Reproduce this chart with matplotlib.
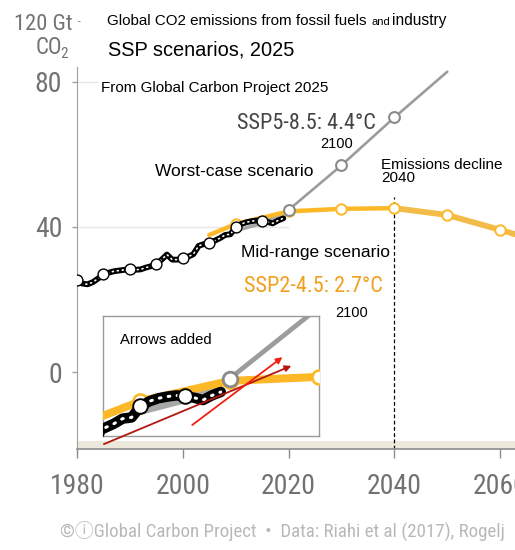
import matplotlib
matplotlib.use('Agg')
import matplotlib.pyplot as plt

# historical emissions (Gt CO2)
hist_years = list(range(1980, 2020))
hist_vals = [25.4, 24.4, 24.2, 24.8, 25.8, 27.0, 27.4, 27.8, 28.0, 28.2,
             28.4, 28.2, 28.3, 28.8, 29.2, 29.8, 31.0, 32.4, 31.0, 31.0,
             31.4, 31.8, 32.5, 34.8, 35.3, 35.5, 36.2, 36.9, 37.8, 38.0,
             39.9, 40.8, 41.3, 41.6, 41.8, 41.7, 41.4, 41.0, 41.8, 42.4]

# SSP2-4.5 (mid-range)
ssp2_years = [2005, 2010, 2020, 2030, 2040, 2050, 2060, 2070]
ssp2_vals = [37.8, 40.8, 44.3, 45.0, 45.2, 43.3, 39.2, 35.0]

# SSP5-8.5 (worst case)
ssp5_years = [2010, 2015, 2020, 2030, 2040, 2050]
ssp5_vals = [39.0, 41.0, 44.7, 57.0, 70.2, 82.8]

W, H = 515, 550
COND = ['Roboto Condensed', 'DejaVu Sans', 'Noto Sans CJK JP']
SANS = ['Liberation Sans', 'DejaVu Sans']
GREY_TXT = '#727272'
ORANGE = '#FDB827'
ORANGE2 = '#F3BB48'
GREY_LINE = '#9C9C9C'


def px(x, y):
    return x / W, 1 - y / H


def draw_series(ax, k=1.0, km=1.0):
    # SSP5-8.5
    ax.plot(ssp5_years[:3], ssp5_vals[:3], color='#A8A8A8', lw=2.6 * k,
            solid_capstyle='round', zorder=2)
    ax.plot(ssp5_years[2:], ssp5_vals[2:], color=GREY_LINE, lw=1.9 * k,
            solid_capstyle='round', zorder=2)
    # SSP2-4.5
    i40 = ssp2_years.index(2040)
    ax.plot(ssp2_years[:i40 + 1], ssp2_vals[:i40 + 1], color=ORANGE,
            lw=3.2 * k, solid_capstyle='round', zorder=3)
    ax.plot(ssp2_years[i40:], ssp2_vals[i40:], color=ORANGE2, lw=4.2 * k,
            solid_capstyle='round', zorder=3)
    ax.plot(ssp2_years[1:], ssp2_vals[1:], ls='none', marker='o',
            ms=7.5 * km, mfc='white', mec=ORANGE, mew=1.4 * km, zorder=4)
    # historical
    ax.plot(hist_years, hist_vals, color='black', lw=4.2 * k,
            solid_capstyle='round', zorder=5)
    ax.plot(hist_years, hist_vals, color='white', lw=1.2 * k,
            ls=(0, (0.6, 2.4)), dash_capstyle='round', zorder=6)
    ax.plot(hist_years[::5], hist_vals[::5], ls='none', marker='o',
            ms=7.8 * km, mfc='white', mec='black', mew=1.0 * km, zorder=7)
    # SSP5 markers on top
    ax.plot(ssp5_years[2:5], ssp5_vals[2:5], ls='none', marker='o',
            ms=7.8 * km, mfc='white', mec='#8A8A8A', mew=1.5 * km, zorder=8)


fig = plt.figure(figsize=(W / 100, H / 100), dpi=100)
ax = fig.add_axes([77 / W, (H - 449) / H, 1 - 77 / W, (449 - 67) / H])
ax.set_xlim(1980, 2062.8)
ax.set_ylim(-21.2, 84.1)

for s in ('top', 'right'):
    ax.spines[s].set_visible(False)
ax.spines['left'].set_color('#A0A0A0')
ax.spines['bottom'].set_color('#8C8C8C')
ax.spines['bottom'].set_linewidth(1.2)

ax.set_xticks([1980, 2000, 2020, 2040, 2060])
ax.set_yticks([0, 40, 80])
ax.tick_params(axis='x', length=6.5, width=1, color='#8C8C8C', pad=11,
               labelsize=20, labelcolor=GREY_TXT)
ax.tick_params(axis='y', length=3.6, width=1, color='#A0A0A0', pad=7,
               labelsize=20, labelcolor=GREY_TXT)
for lab in ax.get_xticklabels() + ax.get_yticklabels():
    lab.set_family(COND)

# light grid pieces and beige floor band
ax.hlines(40, 1980, 2020, color='#E6E6E6', lw=1, zorder=0)
ax.hlines(80, 1980, 1984, color='#E6E6E6', lw=1, zorder=0)
ax.axhspan(-21.2, -19.0, color='#EDE8DC', lw=0, zorder=0)

# 2040 marker line
ax.vlines(2040, -21.2, 48.3, color='black', lw=0.9, ls=(0, (3, 2)), zorder=1)

draw_series(ax)

# top "120 Gt CO2" label
fig.text(*px(73, 30), '120 Gt', family=COND, fontsize=16.2, color=GREY_TXT,
         ha='right', va='baseline')
fig.text(*px(80, 25), '-', family=COND, fontsize=8, color=GREY_TXT,
         ha='right', va='baseline')
fig.text(*px(62, 54), 'CO', family=COND, fontsize=16.5, color=GREY_TXT,
         ha='right', va='baseline')
fig.text(*px(60.5, 58), '2', family=COND, fontsize=11, color=GREY_TXT,
         ha='left', va='baseline')

# titles
fig.text(*px(107, 25), 'Global CO2 emissions from fossil fuels', family=SANS,
         fontsize=10.9, ha='left', va='baseline')
fig.text(*px(371, 25), 'and', family=SANS, fontsize=8, ha='left', va='baseline')
fig.text(*px(392, 25), 'industry', family=SANS, fontsize=11.2, ha='left',
         va='baseline')
fig.text(*px(108, 55), 'SSP scenarios, 2025', family=SANS, fontsize=14.4,
         ha='left', va='baseline')
fig.text(*px(101, 92), 'From Global Carbon Project 2025', family=SANS,
         fontsize=11, ha='left', va='baseline')

# scenario labels
fig.text(*px(237, 129), 'SSP5-8.5: 4.4°C', family=COND, fontsize=16,
         color='#444444', ha='left', va='baseline')
fig.text(*px(320, 148), '2100', family=SANS, fontsize=10.5, ha='left',
         va='baseline')
fig.text(*px(155, 176), 'Worst-case scenario', family=SANS, fontsize=12.5,
         ha='left', va='baseline')
fig.text(*px(381, 169), 'Emissions decline', family=SANS, fontsize=11,
         ha='left', va='baseline')
fig.text(*px(381, 182), '2040', family=SANS, fontsize=11, ha='left',
         va='baseline')
fig.text(*px(241, 257), 'Mid-range scenario', family=SANS, fontsize=12.5,
         ha='left', va='baseline')
fig.text(*px(244, 292), 'SSP2-4.5: 2.7°C', family=COND, fontsize=16,
         color='#F0A01E', ha='left', va='baseline')
fig.text(*px(335, 317), '2100', family=SANS, fontsize=10.5, ha='left',
         va='baseline')

# zoomed inset
ins = fig.add_axes([103 / W, (H - 436) / H, 216 / W, 120 / H])
ins.set_xlim(2005.8, 2030)
ins.set_ylim(34.8, 55.5)
ins.set_xticks([])
ins.set_yticks([])
for s in ins.spines.values():
    s.set_color('#9A9A9A')
    s.set_linewidth(1)
draw_series(ins, k=1.8, km=1.35)
fig.text(*px(120, 344), 'Arrows added', family=SANS, fontsize=10.7,
         ha='left', va='baseline', zorder=20)

# red arrows (positions in inset data units)
arrow_dark = ((2005.9, 33.4), (2026.9, 46.9))
arrow_red = ((2015.8, 36.7), (2025.9, 48.4))
for (p0, p1), col in ((arrow_dark, '#B3170F'), (arrow_red, '#F21E12')):
    ins.annotate('', xy=p1, xytext=p0, annotation_clip=False, zorder=30,
                 arrowprops=dict(arrowstyle='-|>', color=col, lw=1.3,
                                 mutation_scale=9, shrinkA=0, shrinkB=0))

# footer
fig.text(*px(60, 537), '\u00a9\u24d8Global Carbon Project  \u2022  Data: Riahi et al (2017), Rogelj',
         family=COND, fontsize=13.6, color='#B8B8B8', ha='left', va='baseline')

fig.savefig('out.png', dpi=100)
